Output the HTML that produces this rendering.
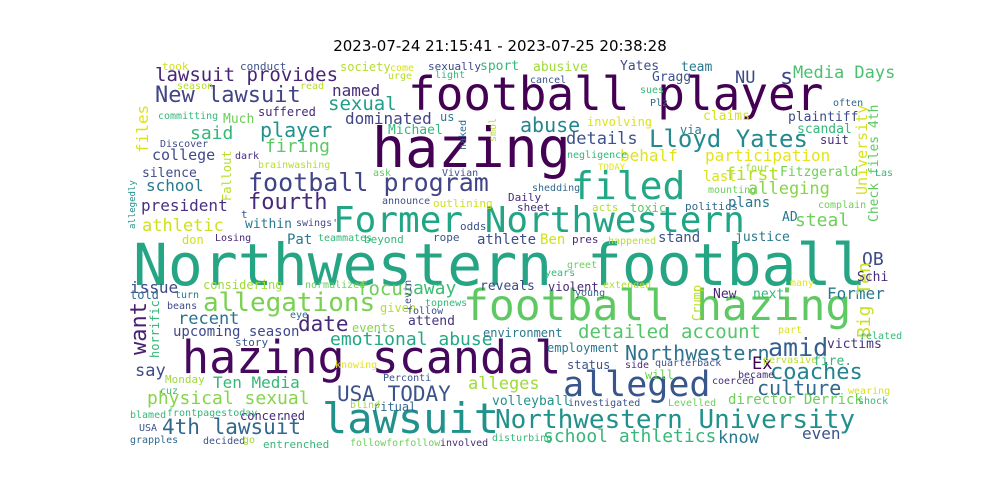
<!DOCTYPE html>
<html><head><meta charset="utf-8">
<style>
html,body{margin:0;padding:0;background:#fff;}
#wrap{position:relative;width:1000px;height:500px;overflow:hidden;background:#fff;}
#title{position:absolute;left:0;width:1000px;top:37px;text-align:center;font-family:"DejaVu Sans","Liberation Sans",sans-serif;font-size:15px;color:#000;}
.w{position:absolute;font-family:"DejaVu Sans Mono","Liberation Mono",monospace;line-height:1;white-space:nowrap;transform-origin:0 0;}
</style></head><body>
<div id="wrap">
<div id="title">2023-07-24 21:15:41 - 2023-07-25 20:38:28</div>
</div>
<script>
// word, x, y (cap-top), font size, colour; vertical words listed separately
const words=[
"Northwestern football","hazing","football player","football hazing","hazing scandal","lawsuit","filed","Former Northwestern","alleged","Northwestern University",
"Lloyd Yates","football program","allegations","USA TODAY","4th lawsuit","lawsuit provides","New lawsuit","said","player","firing",
"fourth","named","sexual","dominated","college","school","president","athletic","s","NU",
"Media Days","abuse","details","first","participation","behalf","alleging","steal","QB","issue",
"focus","away","date","recent","upcoming season","emotional abuse","amid","coaches","detailed account","Former",
"reveals","Northwestern","culture","say","physical sexual","Ten Media","alleges","school athletics","know","even",
"director Derrick","volleyball","Gragg","Yates","want","University","Check files 4th","Big Ten","files","Crump",
"Ex","Fallout","allegedly","horrific","Levin","within","Pat","suffered","Much","Michael",
"silence","took","conduct","society","sexually","sport","team","abusive","justice","environment",
"employment","status","victims","attend","events","stand","plans","concerned","Monday","told",
"story","given","ritual","blind","will","toxic","claims","AD","Fitzgerald","involving",
"violent","next","New","plaintiff","scandal","suit","last","via","athlete","Ben",
"considering","committing","Discover","college","us","ask","Vivian","announce","outlining","odds",
"don","Losing","teammates","beyond","rope","pres","happened","mounting","shedding","Daily",
"sheet","acts","politics","complain","four","negligence","TODAY","cancel","sues","Plz",
"often","come","urge","light","read","season","dark","brainwashing","swings'","t",
"greet","years","extended","young","many","Schi","part","pervasive","fire.","became",
"coerced","quarterback","side","investigated","Levelled","disturbing","wearing","shock","topnews","follow",
"eye","normalized","turn","beans","cuz","knowing","Perconti","blamed","frontpagestoday","USA",
"grapples","decided","go","entrenched","followforfollow","involved","naked","smol","related","Las"];
const verticalWords=["want","University","Check files 4th","Big Ten","files","Crump","Fallout","allegedly","horrific","Levin","naked","smol"];
const xs=[
133,372,408,463,182,322,571,333,563,495,
649,248,203,337,162,155,155,190,260,265,
248,332,328,345,152,146,141,142,780,735,
793,520,566,725,705,620,748,795,862,130,
357,413,298,178,173,330,768,770,578,827,
480,625,757,135,147,213,468,543,718,802,
728,492,652,620,132,857,870,858,137,692,
752,222,130,150,405,245,287,258,223,388,
142,162,240,340,428,480,681,533,735,483,
547,567,827,408,352,658,728,240,165,130,
235,380,373,350,645,630,703,782,780,587,
548,753,713,788,797,820,703,680,477,540,
203,158,160,0,440,373,442,382,433,460,
182,215,318,364,433,572,608,708,532,508,
517,592,685,818,745,567,598,530,640,650,
833,390,388,435,300,177,235,258,296,241,
567,545,603,575,790,857,778,763,813,738,
712,655,625,568,668,492,848,858,425,407,
290,305,175,167,160,335,383,130,167,139,
130,203,243,263,350,440,460,490,860,875];
const ys=[
243,128,77,290,340,403,172,207,372,410,
130,173,293,387,420,68,88,127,122,140,
195,85,97,113,150,180,200,220,70,72,
67,117,133,168,150,150,183,214,253,282,
282,282,317,313,327,333,338,365,325,288,
282,345,380,365,392,377,378,430,432,428,
395,397,73,62,302,105,105,262,105,285,
358,150,180,300,280,220,235,107,115,126,
169,62,62,62,62,62,63,63,233,328,
343,360,340,317,323,233,198,411,375,290,
338,303,402,402,370,203,112,213,168,117,
282,290,290,113,125,135,172,125,235,235,
280,113,141,0,112,170,170,198,199,222,
235,235,235,235,233,235,238,187,185,193,
203,203,202,202,165,152,165,77,87,100,
100,65,73,72,83,83,153,162,220,210,
262,270,282,290,280,273,327,357,357,372,
378,360,362,400,400,435,388,398,300,308,
312,282,292,303,388,362,375,412,410,425,
437,438,437,440,440,440,120,118,333,170];
const fs=[
58,55,46,43,45,42,38,36,35,26,
24,25,26,21,21,19,22,18,20,18,
22,16,19,16,15,16,16,17,22,17,
17,20,17,18,16,16,17,18,18,16,
19,18,21,17,14,18,25,22,19,16,
13,20,20,17,18,16,17,18,17,16,
14,13,13,13,22,15,13,18,16,12,
17,12,9,12,10,13,14,12,13,13,
13,11,11,12,11,13,13,13,13,12,
12,12,13,13,12,14,14,12,11,12,
11,12,12,10,12,12,13,13,13,12,
12,13,13,13,13,12,14,12,14,14,
12,10,10,1,12,10,10,10,11,11,
12,10,10,11,11,11,10,10,10,11,
11,11,11,10,10,10,9,10,10,10,
10,10,10,10,10,10,10,10,10,11,
10,10,10,10,10,13,10,10,13,10,
10,10,10,10,10,10,10,10,10,10,
10,10,10,10,10,10,10,10,10,10,
10,10,10,11,10,10,10,10,10,10];
const cols=[
"#25a584","#440154","#440154","#5ec962","#46085c","#21918c","#22a884","#21a685","#39568c","#21918c",
"#238a8d","#414487","#7ad151","#3b528b","#31688e","#482475","#414487","#35b779","#21918c","#5ec962",
"#482878","#472c7a","#1f9e89","#414487","#3e4a89","#2a788e","#46327e","#d0e11c","#414487","#3e4a89",
"#4ac16d","#25858e","#3b528b","#b5de2b","#e5e419","#dfe318","#86d549","#6ece58","#3e4a89","#3e4a89",
"#6ece58","#3fbc73","#482878","#2c728e","#3e4989","#22a884","#355f8d","#26828e","#54c568","#2a788e",
"#3e4a89","#2c728e","#31688e","#3e4a89","#86d549","#35b779","#a0da39","#35b779","#2a788e","#3b528b",
"#6ece58","#21918c","#3b528b","#3e4a89","#481f70","#d8e219","#5ec962","#c8e020","#dde318","#b8de29",
"#440154","#b8de29","#21918c","#35b779","#3b528b","#2a788e","#2a788e","#482878","#6ece58","#35b779",
"#3e4a89","#d0e11c","#3b528b","#b5de2b","#3e4a89","#35b779","#2a788e","#a0da39","#2a788e","#2a788e",
"#2a788e","#3b528b","#46327e","#46327e","#86d549","#3b528b","#2a788e","#482878","#a0da39","#31688e",
"#3b528b","#b5de2b","#31688e","#a0da39","#6ece58","#5ec962","#d8e219","#2a788e","#6ece58","#dde318",
"#482878","#35b779","#482475","#3e4a89","#35b779","#472c7a","#d8e219","#2a788e","#3e4a89","#d0e11c",
"#a0da39","#35b779","#3e4a89","#ffffff","#2a788e","#5ec962","#3b528b","#3b528b","#d0e11c","#3b528b",
"#d0e11c","#482878","#35b779","#35b779","#3b528b","#482878","#b5de2b","#6ece58","#31688e","#472c7a",
"#472c7a","#b5de2b","#31688e","#6ece58","#a0da39","#35b779","#e5e419","#3b528b","#35b779","#31688e",
"#31688e","#d8e219","#b5de2b","#35b779","#b5de2b","#b5de2b","#472c7a","#b5de2b","#3e4a89","#3b528b",
"#6ece58","#35b779","#b5de2b","#31688e","#e5e419","#472c7a","#d8e219","#b5de2b","#35b779","#472c7a",
"#472c7a","#3b528b","#472c7a","#3b528b","#6ece58","#35b779","#d8e219","#35b779","#35b779","#3b528b",
"#31688e","#6ece58","#2a788e","#3e4a89","#35b779","#e5e419","#3b528b","#35b779","#35b779","#3b528b",
"#31688e","#3b528b","#a0da39","#35b779","#6ece58","#472c7a","#31688e","#b5de2b","#35b779","#35b779"];
const wrap=document.getElementById('wrap');
for(let i=0;i<words.length;i++){
  if(fs[i]<2) continue;
  const el=document.createElement('div');
  el.className='w';
  el.textContent=words[i];
  
  
  const f=fs[i];
  el.style.fontSize=f+'px';
  el.style.color=cols[i]||'#3b528b';
  if(verticalWords.indexOf(words[i])>=0){
    const w=words[i].length*0.602*f;
    el.style.left=(xs[i]-0.12*f)+'px';
    el.style.top=(ys[i]+w)+'px';
    el.style.transform='rotate(-90deg)';
  } else {
    el.style.left=xs[i]+'px';
    el.style.top=(ys[i]-0.12*f)+'px';
  }
  wrap.appendChild(el);
}
</script>
</body></html>
